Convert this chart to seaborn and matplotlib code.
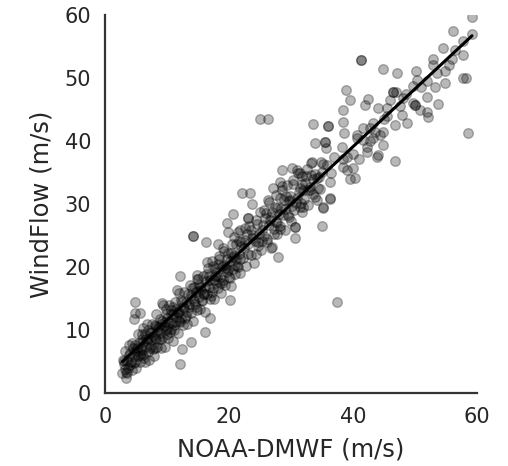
import numpy as np
import pandas as pd
import matplotlib
matplotlib.use("Agg")
import matplotlib.pyplot as plt
import seaborn as sns

# ---- data (NOAA-DMWF vs WindFlow, m/s) ----
x_low = [2.8, 3.0, 3.2, 3.3, 3.5, 3.6, 3.8, 4.0, 4.1, 4.3,
         4.4, 4.6, 4.7, 4.9, 5.0, 5.1, 5.3, 5.4, 5.5, 5.7,
         5.8, 6.0, 6.1, 6.2, 6.4, 6.5, 6.6, 6.8, 6.9, 7.0,
         7.1, 7.3, 7.4, 7.5, 7.7, 7.8, 7.9, 8.0, 8.2, 8.3,
         8.4, 8.5, 8.7, 8.8, 8.9, 9.0, 9.2, 9.3, 9.4, 9.5,
         9.7, 9.8, 9.9, 10.0, 10.2, 10.3, 10.4, 10.5, 10.7, 10.8,
         10.9, 11.0, 11.2, 11.3, 11.4, 11.5, 11.7, 11.8, 11.9, 12.0]
y_low = [3.1, 5.1, 3.8, 6.6, 3.2, 5.1, 7.6, 4.4, 6.4, 3.6,
         8.0, 5.8, 4.7, 7.6, 3.9, 6.7, 9.4, 5.9, 8.0, 5.0,
         7.1, 9.3, 6.1, 8.1, 4.9, 9.3, 7.3, 11.0, 6.5, 8.6,
         5.3, 9.6, 7.5, 10.9, 7.0, 9.1, 5.8, 10.8, 8.6, 12.6,
         7.3, 10.2, 8.5, 11.8, 9.5, 7.2, 11.5, 14.0, 8.9, 10.6,
         7.3, 13.3, 10.0, 11.9, 8.7, 11.1, 14.0, 9.7, 13.1, 11.1,
         8.2, 12.6, 10.0, 14.4, 11.3, 13.4, 9.6, 12.9, 15.8, 11.4]

x_low2 = [3.1, 3.4, 3.9, 4.2, 4.5, 4.8, 5.2, 5.6, 5.9, 6.3,
          6.7, 7.2, 7.6, 8.1, 8.6, 9.1, 9.6, 10.1, 10.6, 11.1,
          11.6, 12.1, 3.7, 4.9, 5.8, 6.6, 7.4, 8.2, 9.0, 9.9,
          10.7, 11.5, 12.3, 6.0, 7.0, 8.0, 9.0, 10.0, 11.0, 12.0]
y_low2 = [4.6, 3.3, 6.1, 5.0, 7.2, 4.9, 7.2, 6.1, 8.6, 5.6,
          8.3, 7.2, 9.7, 8.7, 10.5, 8.5, 11.2, 10.3, 12.6, 10.8,
          12.8, 11.3, 4.0, 6.5, 6.4, 8.6, 8.6, 10.7, 10.2, 12.6,
          10.2, 12.0, 14.7, 6.9, 10.0, 7.1, 11.0, 9.3, 13.7, 12.9]

x_mid1 = [12.2, 12.4, 12.5, 12.7, 12.8, 13.0, 13.1, 13.3, 13.4, 13.6,
          13.7, 13.9, 14.0, 14.2, 14.3, 14.5, 14.6, 14.8, 14.9, 15.1,
          15.2, 15.4, 15.5, 15.7, 15.8, 16.0, 16.1, 16.3, 16.4, 16.6,
          16.7, 16.9, 17.0, 17.2, 17.3, 17.5, 17.6, 17.8, 17.9, 18.1,
          18.2, 18.4, 18.5, 18.7, 18.8, 19.0, 19.1, 19.3, 19.4, 19.6,
          19.7, 19.9, 20.0, 20.2, 20.3, 20.5, 20.6, 20.8, 20.9, 21.1,
          21.2, 21.4, 21.5, 21.7, 21.8, 22.0]
y_mid1 = [11.9, 14.4, 10.8, 13.5, 16.0, 12.3, 14.5, 11.0, 15.7, 13.7,
          17.2, 12.7, 15.1, 11.5, 16.8, 14.1, 16.0, 13.2, 18.7, 15.2,
          17.1, 13.3, 16.3, 14.6, 18.5, 15.7, 12.9, 17.8, 15.7, 19.8,
          16.9, 14.9, 18.0, 21.0, 16.0, 18.0, 14.9, 19.9, 17.4, 19.2,
          16.6, 21.2, 18.4, 15.8, 20.2, 18.0, 23.0, 19.9, 17.1, 21.3,
          19.2, 22.2, 18.4, 20.9, 17.0, 23.6, 19.7, 21.9, 18.9, 21.2,
          23.7, 20.0, 25.6, 21.2, 19.0, 23.3]

x_mid2 = [12.6, 13.2, 13.8, 14.4, 15.0, 15.6, 16.2, 16.8, 17.4, 18.0,
          18.6, 19.2, 19.8, 20.4, 21.0, 21.6, 12.9, 13.5, 14.1, 14.7,
          15.3, 15.9, 16.5, 17.1, 17.7, 18.3, 18.9, 19.5, 20.1, 20.7,
          21.3, 21.9]
y_mid2 = [13.7, 12.9, 15.5, 14.6, 16.2, 14.8, 16.8, 18.6, 16.7, 18.6,
          17.5, 20.3, 19.5, 22.2, 20.3, 22.1, 11.9, 14.1, 16.6, 13.7,
          16.8, 15.7, 18.9, 15.4, 18.6, 20.4, 17.4, 19.8, 18.3, 21.6,
          20.1, 24.0]

x_up1 = [22.2, 22.5, 22.7, 23.0, 23.2, 23.5, 23.7, 24.0, 24.2, 24.5,
         24.7, 25.0, 25.2, 25.5, 25.7, 26.0, 26.2, 26.5, 26.7, 27.0,
         27.2, 27.5, 27.7, 28.0, 28.2, 28.5, 28.7, 29.0, 29.2, 29.5,
         29.7, 30.0, 30.3, 30.6, 30.9, 31.2, 31.5, 31.8, 32.1, 32.4,
         32.7, 33.0, 33.3, 33.6, 33.9, 34.2, 34.5, 34.8]
y_up1 = [21.5, 24.3, 20.2, 23.6, 26.5, 21.9, 24.6, 20.7, 24.2, 26.8,
         23.4, 28.7, 22.7, 26.7, 25.0, 28.6, 24.0, 26.7, 23.0, 28.7,
         26.0, 31.4, 25.2, 28.4, 26.5, 32.9, 28.3, 25.8, 31.2, 28.3,
         30.4, 27.3, 33.2, 26.4, 31.0, 35.0, 29.5, 33.1, 30.8, 34.5,
         29.8, 32.7, 36.5, 31.6, 34.7, 30.6, 34.3, 36.6]

x_up2 = [22.4, 23.1, 23.8, 24.6, 25.3, 26.1, 26.8, 27.6, 28.3, 29.1,
         29.8, 30.5, 31.3, 32.0, 32.8, 33.5, 34.3, 35.0, 22.9, 24.3,
         25.8, 27.3, 28.8, 30.2, 31.7, 33.2, 34.7]
y_up2 = [23.0, 22.0, 25.1, 24.0, 25.8, 24.5, 28.0, 27.2, 26.1, 29.2,
         31.3, 29.1, 31.9, 29.6, 32.2, 34.0, 32.5, 35.1, 25.3, 22.1,
         27.7, 25.2, 30.7, 29.7, 28.7, 34.6, 32.4]

x_fill = [24.4, 25.6, 26.4, 27.4, 28.6, 29.4, 30.4, 31.4, 32.6, 24.8,
          26.6, 28.4, 30.8, 32.2, 20.8, 21.8, 22.6, 19.2, 18.4, 17.4,
          23.6, 25.4, 27.8, 29.6, 31.6]
y_fill = [27.5, 29.0, 30.3, 29.6, 32.2, 33.0, 33.8, 32.5, 35.5, 25.3,
          27.4, 29.3, 30.2, 33.4, 24.8, 25.9, 26.2, 22.5, 21.7, 20.2,
          25.8, 24.2, 27.0, 28.0, 30.1]

x_read = [38.9, 39.5, 42.4, 41.9, 38.4, 44.0, 45.5, 50.0, 50.8, 51.9,
          52.1, 47.9, 48.7, 33.5, 36.0, 38.4, 38.5, 58.5, 33.9, 35.5,
          35.6, 38.2, 40.6, 41.6, 43.2, 42.3, 44.0, 46.8, 33.4, 35.8,
          38.4, 40.0, 31.5, 30.2, 34.2, 36.3, 39.5, 59.2, 56.1, 59.2,
          54.5, 57.7, 41.3, 52.9, 52.9, 44.8, 47.1, 50.2, 54.8, 57.7,
          58.3, 50.3, 54.8, 53.2, 49.7, 46.5, 47.0, 51.9, 53.7, 46.0,
          48.1, 49.7, 46.8, 44.8, 43.2, 45.0, 40.0, 41.0, 42.8, 37.0,
          36.5, 39.0, 43.5, 47.5, 48.5, 45.5, 56.0, 55.5, 52.0, 53.5,
          51.0, 56.5, 57.8, 40.6, 41.6, 42.7, 44.4, 44.8, 43.9, 42.3,
          31.0, 31.8, 35.2, 38.4, 39.0, 40.3, 36.3, 27.1, 29.8, 27.7,
          33.1, 33.9, 35.2, 31.9, 28.5, 28.2, 26.3, 28.2, 26.9, 27.9,
          30.6, 30.6, 23.7, 20.6, 19.7, 23.1, 19.8, 21.6, 16.5, 15.0,
          35.0, 36.3, 35.2]
y_read = [48.1, 46.5, 46.7, 45.7, 44.9, 45.2, 45.2, 45.7, 44.9, 44.6,
          43.8, 44.1, 42.9, 42.7, 42.4, 43.0, 41.3, 41.3, 39.7, 39.8,
          38.9, 39.0, 40.5, 42.1, 42.9, 39.0, 37.8, 36.8, 36.7, 36.2,
          35.9, 35.7, 34.9, 35.7, 34.1, 33.5, 34.0, 59.7, 57.5, 57.0,
          54.8, 53.7, 52.9, 53.0, 52.1, 51.4, 50.8, 51.1, 51.1, 50.0,
          50.0, 49.7, 49.2, 48.6, 48.7, 47.8, 47.8, 47.0, 45.9, 46.5,
          46.8, 46.0, 42.5, 41.4, 40.5, 43.5, 38.0, 37.2, 40.0, 37.5,
          35.0, 37.5, 41.5, 45.5, 47.5, 44.0, 53.0, 52.0, 49.5, 50.8,
          48.5, 54.5, 55.8, 41.0, 40.2, 42.1, 41.0, 39.4, 37.5, 38.3,
          35.4, 34.4, 36.3, 37.1, 35.4, 34.1, 31.0, 32.5, 30.6, 29.4,
          32.2, 31.1, 29.4, 32.2, 35.4, 33.5, 30.6, 31.0, 23.2, 21.6,
          26.3, 24.6, 30.0, 28.4, 27.0, 27.8, 25.6, 24.1, 20.8, 18.1,
          26.5, 30.8, 29.5]

x_out = [25.0, 26.3, 22.1, 23.4, 14.2, 16.3, 18.2, 4.8, 4.8, 5.6,
         4.7, 6.1, 3.4, 2.9, 12.1, 12.4, 13.9, 16.1, 16.9, 12.1,
         11.6, 14.8, 9.2, 20.2, 37.4, 41.3, 14.2, 36.0, 35.5, 46.5,
         50.0, 23.1]
y_out = [43.5, 43.5, 31.7, 31.7, 24.9, 24.0, 23.7, 14.4, 12.7, 12.7,
         11.7, 10.3, 2.4, 5.2, 4.6, 7.0, 8.1, 9.7, 11.9, 18.6,
         16.3, 18.1, 14.3, 14.8, 14.4, 52.9, 24.9, 42.4, 39.8, 47.8,
         45.7, 27.8]

x_label = "NOAA-DMWF (m/s)"
y_label = "WindFlow (m/s)"
x_ticks = [0, 20, 40, 60]
y_ticks = [0, 10, 20, 30, 40, 50, 60]

noaa = x_low + x_low2 + x_mid1 + x_mid2 + x_up1 + x_up2 + x_fill + x_read + x_out
windflow = y_low + y_low2 + y_mid1 + y_mid2 + y_up1 + y_up2 + y_fill + y_read + y_out
df = pd.DataFrame({"noaa": noaa, "windflow": windflow})

sns.set_theme(style="white")
plt.rcParams["font.family"] = ["DejaVu Sans"]

fig = plt.figure(figsize=(5.08, 4.66), dpi=100)
ax = fig.add_axes([105 / 508, 1 - 393 / 466, 372 / 508, 378 / 466])

sns.regplot(data=df, x="noaa", y="windflow", ax=ax, ci=None, color="black",
            scatter_kws=dict(alpha=0.28, s=48, linewidths=1.0),
            line_kws=dict(lw=2.2, color="black"))

ax.set_xlim(0, 60)
ax.set_ylim(0, 60)
ax.set_xticks(x_ticks)
ax.set_yticks(y_ticks)
ax.tick_params(axis="both", labelsize=15, length=0, pad=10, colors=".15")
ax.set_xlabel(x_label, fontsize=17.5, color=".15", labelpad=8)
ax.set_ylabel(y_label, fontsize=17.5, color=".15", labelpad=8)
for s in ["left", "bottom"]:
    ax.spines[s].set_color(".2")
    ax.spines[s].set_linewidth(1.6)
sns.despine(ax=ax)

fig.savefig("out.png", dpi=100)
